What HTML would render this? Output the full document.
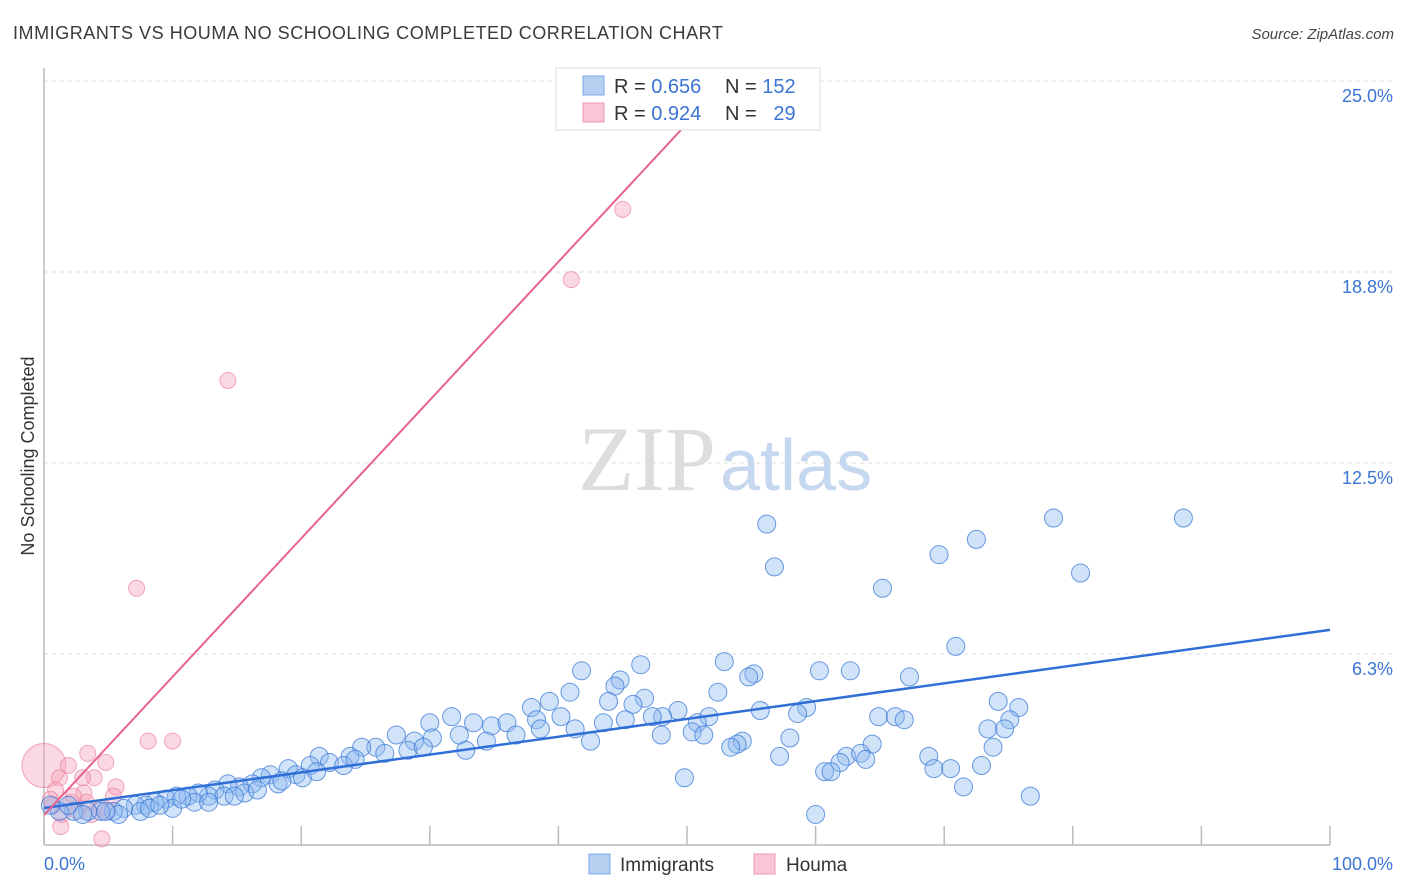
<!DOCTYPE html>
<html><head><meta charset="utf-8"><style>
body{margin:0;background:#fff;font-family:"Liberation Sans",sans-serif;}
svg{display:block}
</style></head><body>
<svg id="chart" width="1406" height="892" xmlns="http://www.w3.org/2000/svg">
<text x="13" y="39" font-size="18" fill="#3a3a3a" letter-spacing="0.55" font-family="Liberation Sans, sans-serif">IMMIGRANTS VS HOUMA NO SCHOOLING COMPLETED CORRELATION CHART</text>
<text x="1394" y="39" font-size="15" fill="#444" font-style="italic" text-anchor="end">Source: ZipAtlas.com</text>
<g id="grid"></g>
<text x="716" y="490" font-size="92" text-anchor="end" fill="#ddd" font-family="Liberation Serif, serif">ZIP</text>
<text x="720" y="490" font-size="72" fill="#c5d8f0">atlas</text>
<g id="axes"></g>
<g id="marks"></g>
<text transform="translate(34,456) rotate(-90)" font-size="18" fill="#333" text-anchor="middle">No Schooling Completed</text>
<text x="44" y="870" font-size="18" fill="#3a74d4">0.0%</text>
<text x="1393" y="870" font-size="18" fill="#3a74d4" text-anchor="end">100.0%</text>
<g>
<rect x="556" y="68" width="264" height="62" fill="#fff" stroke="#ddd"/>
<rect x="583" y="76" width="21" height="19" fill="#b7d0f2" stroke="#7aa7e6"/>
<rect x="583" y="103" width="21" height="19" fill="#f8c6d4" stroke="#ec98b2"/>
<text x="614" y="93" font-size="20" fill="#333">R = <tspan fill="#3a74d4">0.656</tspan></text>
<text x="725" y="93" font-size="20" fill="#333">N = <tspan fill="#3a74d4">152</tspan></text>
<text x="614" y="120" font-size="20" fill="#333">R = <tspan fill="#3a74d4">0.924</tspan></text>
<text x="725" y="120" font-size="20" fill="#333">N = <tspan fill="#3a74d4">&#160; 29</tspan></text>
</g>
<g>
<rect x="589" y="854" width="21" height="20" fill="#b7d0f2" stroke="#7aa7e6"/>
<text x="620" y="871" font-size="19" fill="#333">Immigrants</text>
<rect x="754" y="854" width="21" height="20" fill="#f8c6d4" stroke="#ec98b2"/>
<text x="786" y="871" font-size="19" fill="#333">Houma</text>
</g>
</svg>
<script>
const yTicks=[6.25,12.5,18.75,25];
const yTickLabels=["6.3%","12.5%","18.8%","25.0%"];
const xTicks=[0,10,20,30,40,50,60,70,80,90,100];
const blueX=[56.2,78.5,88.6,72.5,69.6,56.8,80.6,65.2,70.9,52.9,46.4,60.3,62.7,41.8,55.2,54.8,67.3,44.8,44.4,40.9,52.4,39.3,43.9,46.7,45.8,74.2,75.8,59.3,37.9,49.3,55.7,58.6,64.9,66.2,66.9,75.1,51.7,48.1,47.3,40.2,38.3,45.2,43.5,50.8,31.7,30.0,33.4,34.8,36.0,73.4,74.7,41.3,50.4,48.0,51.3,32.3,36.7,27.4,28.8,30.2,34.4,42.5,58.0,64.4,54.3,53.9,53.4,73.8,32.8,28.3,25.8,24.7,21.4,23.8,26.5,62.4,63.5,68.8,63.9,57.2,61.9,69.2,70.5,72.9,60.7,61.2,49.8,22.2,23.3,20.7,19.0,19.6,17.6,16.9,16.2,15.2,14.3,13.3,12.8,12.0,11.2,10.3,9.5,8.6,7.9,7.1,6.2,5.4,4.4,3.4,2.3,1.2,0.5,71.5,76.7,60.0,14.0,15.6,18.2,20.1,24.2,29.5,38.6,11.7,10.0,7.5,5.8,3.0,1.9,4.8,8.2,9.0,10.7,12.8,14.8,16.6,18.5,21.2];
const blueY=[10.5,10.7,10.7,10.0,9.5,9.1,8.9,8.4,6.5,6.0,5.9,5.7,5.7,5.7,5.6,5.5,5.5,5.4,5.2,5.0,5.0,4.7,4.7,4.8,4.6,4.7,4.5,4.5,4.5,4.4,4.4,4.3,4.2,4.2,4.1,4.1,4.2,4.2,4.2,4.2,4.1,4.1,4.0,4.0,4.2,4.0,4.0,3.9,4.0,3.8,3.8,3.8,3.7,3.6,3.6,3.6,3.6,3.6,3.4,3.5,3.4,3.4,3.5,3.3,3.4,3.3,3.2,3.2,3.1,3.1,3.2,3.2,2.9,2.9,3.0,2.9,3.0,2.9,2.8,2.9,2.7,2.5,2.5,2.6,2.4,2.4,2.2,2.7,2.6,2.6,2.5,2.3,2.3,2.2,2.0,1.9,2.0,1.8,1.6,1.7,1.6,1.6,1.5,1.4,1.3,1.3,1.2,1.1,1.1,1.1,1.1,1.1,1.3,1.9,1.6,1.0,1.6,1.7,2.0,2.2,2.8,3.2,3.8,1.4,1.2,1.1,1.0,1.0,1.3,1.1,1.2,1.3,1.5,1.4,1.6,1.8,2.1,2.4];
const pinkX=[14.3,45.0,41.0,7.2,8.1,10.0,3.4,0,4.8,1.9,1.2,3.9,3.0,5.6,0.9,3.1,5.4,0.5,2.1,3.3,4.4,1.4,2.6,3.7,1.3,4.5,0.7,5.0,2.3];
const pinkY=[15.2,20.8,18.5,8.4,3.4,3.4,3.0,2.6,2.7,2.6,2.2,2.2,2.2,1.9,1.8,1.7,1.6,1.5,1.4,1.4,1.2,1.0,1.1,1.0,0.6,0.2,1.3,1.1,1.6];
const blueTrend=[[0,1.21],[100,7.04]];
const pinkTrend=[[0,0.98],[50.2,23.7]];
const X0=44,X1=1330,Y0=845,PX=30.56;
const sx=v=>X0+(X1-X0)*v/100, sy=v=>Y0-v*PX;
const NS="http://www.w3.org/2000/svg";
function mk(tag,attrs,parent){const e=document.createElementNS(NS,tag);for(const k in attrs)e.setAttribute(k,attrs[k]);parent.appendChild(e);return e;}
const grid=document.getElementById('grid'),axes=document.getElementById('axes'),marks=document.getElementById('marks');
yTicks.forEach((t,i)=>{
 const l=mk('line',{x1:X0,x2:1395,y1:sy(t),y2:sy(t),stroke:'#ddd','stroke-dasharray':'4,4'},grid);
 
 
 const tx=mk('text',{x:1393,y:sy(t)+21,'font-size':18,fill:'#3a74d4','text-anchor':'end'},grid);
 tx.textContent=yTickLabels[i];
 
 
});
const ya=mk('line',{x1:X0,x2:X0,y1:68,y2:Y0,stroke:'#bbb','stroke-width':1.5},axes);


const xa=mk('line',{x1:X0,x2:X1,y1:Y0,y2:Y0,stroke:'#bbb','stroke-width':1.5},axes);


xTicks.forEach(t=>{
 const l=mk('line',{x1:sx(t),x2:sx(t),y1:Y0-19,y2:Y0,stroke:'#bbb','stroke-width':1.5},axes);
 
 
});
pinkX.forEach((x,i)=>{
 const c=mk('circle',{cx:sx(x),cy:sy(pinkY[i]),r:(x===0?22:8),fill:'rgba(244,160,185,0.4)',stroke:'rgba(236,130,160,0.7)','stroke-width':1},marks);
 
 
});
blueX.forEach((x,i)=>{
 const c=mk('circle',{cx:sx(x),cy:sy(blueY[i]),r:9,fill:'rgba(140,185,240,0.4)',stroke:'rgba(58,120,215,0.75)','stroke-width':1},marks);
 
 
});
const bl=mk('line',{x1:sx(blueTrend[0][0]),y1:sy(blueTrend[0][1]),x2:sx(blueTrend[1][0]),y2:sy(blueTrend[1][1]),stroke:'#2f6fd6','stroke-width':2.5},marks);


const pl=mk('line',{x1:sx(pinkTrend[0][0]),y1:sy(pinkTrend[0][1]),x2:sx(pinkTrend[1][0]),y2:sy(pinkTrend[1][1]),stroke:'#e8628e','stroke-width':2},marks);


</script>
</body></html>
